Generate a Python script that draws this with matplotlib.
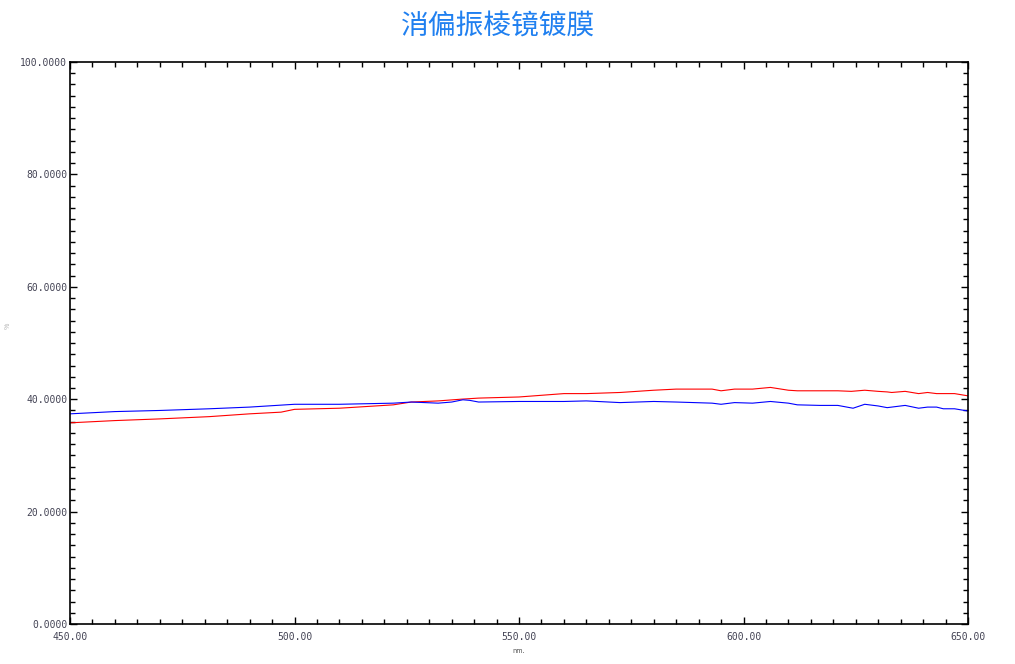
import numpy as np
import matplotlib
matplotlib.use("Agg")
import matplotlib.pyplot as plt
from matplotlib.ticker import MultipleLocator, FormatStrFormatter

plt.rcParams['font.family'] = ['Noto Sans CJK SC', 'DejaVu Sans']

# wavelength (nm) and transmission (%)
red_nm = [450, 460, 470, 481, 490, 497, 500, 510, 522, 526, 532, 537, 541, 550,
          555, 560, 565, 572.5, 580, 585, 593, 595, 598, 602, 606, 610, 612, 617,
          621, 624, 627, 630, 632, 633, 636, 639, 641, 643, 645, 647, 650]
red_val = [35.8, 36.2, 36.5, 36.9, 37.4, 37.7, 38.2, 38.4, 39.0, 39.5, 39.7, 40.0, 40.2, 40.4,
           40.7, 41.0, 41.0, 41.2, 41.6, 41.8, 41.8, 41.5, 41.8, 41.8, 42.1, 41.6, 41.5, 41.5,
           41.5, 41.4, 41.6, 41.4, 41.3, 41.2, 41.4, 41.0, 41.2, 41.0, 41.0, 41.0, 40.6]

blue_nm = [450, 460, 470, 481, 490, 500, 510, 522, 526, 532, 535, 537.5, 539, 541, 550,
           555, 560, 565, 572.5, 580, 585, 593, 595, 598, 602, 606, 610, 612, 617,
           621, 623.7, 624.4, 627, 630, 632, 633, 636, 639, 641, 643, 644.5, 647, 650]
blue_val = [37.4, 37.8, 38.0, 38.3, 38.6, 39.1, 39.1, 39.3, 39.5, 39.3, 39.5, 39.9, 39.8, 39.5, 39.6,
            39.6, 39.6, 39.7, 39.4, 39.6, 39.5, 39.3, 39.1, 39.4, 39.3, 39.6, 39.3, 39.0, 38.9,
            38.9, 38.5, 38.4, 39.1, 38.8, 38.5, 38.6, 38.9, 38.4, 38.6, 38.6, 38.3, 38.3, 37.9]

title = '消偏振棱镜镀膜'

fig = plt.figure(figsize=(10.15, 6.64), dpi=100)
ax = fig.add_axes([0.069, 0.0602, 0.8847, 0.8464])

ax.plot(red_nm, red_val, color='#ff0000', lw=0.8)
ax.plot(blue_nm, blue_val, color='#0000ff', lw=0.8)

ax.set_xlim(450, 650)
ax.set_ylim(0, 100)
ax.xaxis.set_major_locator(MultipleLocator(50))
ax.xaxis.set_minor_locator(MultipleLocator(5))
ax.yaxis.set_major_locator(MultipleLocator(20))
ax.yaxis.set_minor_locator(MultipleLocator(2))
ax.xaxis.set_major_formatter(FormatStrFormatter('%.2f'))
ax.yaxis.set_major_formatter(FormatStrFormatter('%.4f'))

ax.tick_params(which='both', direction='in', top=True, right=True,
               labelsize=7, labelcolor='#444455', width=1)
ax.tick_params(which='major', length=5)
ax.tick_params(axis='x', which='major', pad=6)
ax.tick_params(axis='y', which='major', pad=2)
ax.tick_params(which='minor', length=3.5)
for lab in ax.get_xticklabels() + ax.get_yticklabels():
    lab.set_family('DejaVu Sans Mono')
for s in ax.spines.values():
    s.set_linewidth(1.2)

ax.set_xlabel('nm.', fontsize=5, color='#555555', labelpad=3)
fig.text(0.004, 0.51, '%', fontsize=5, color='#aaaaaa', rotation=90, ha='left', va='center')

fig.text(0.491, 0.962, title, ha='center', va='center', fontsize=20, color='#2080f0')

fig.savefig('out.png', dpi=100)
